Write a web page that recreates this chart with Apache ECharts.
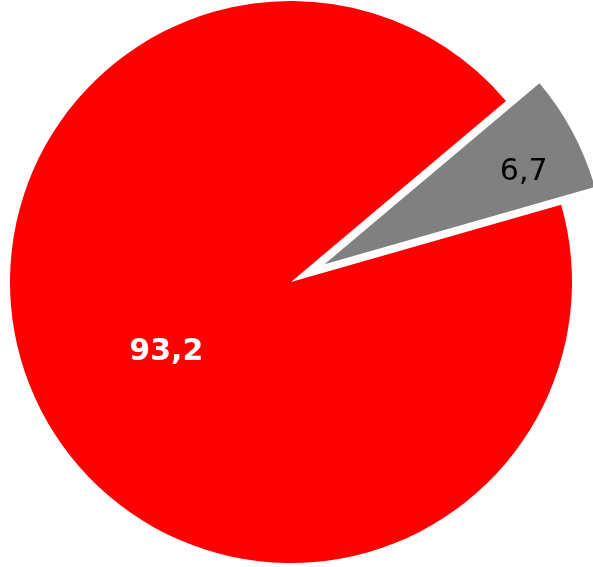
<!DOCTYPE html>
<html>
<head>
<meta charset="utf-8">
<script src="https://cdn.jsdelivr.net/npm/echarts@6/dist/echarts.min.js"></script>
<style>
  html, body { margin: 0; padding: 0; background: #fff; }
  #container { width: 593px; height: 567px; }
</style>
</head>
<body>
<div id="container"></div>
<script>
var names = ['small', 'large'];
var values = [6.7, 93.2];
var labels = ['6,7', '93,2'];
var colors = ['#808080', '#ff0000'];

var chart = echarts.init(document.getElementById('container'));

var data = values.map(function (v, i) {
    var item = {
        name: names[i],
        value: v,
        itemStyle: { color: colors[i] },
        label: {}
    };
    if (i === 0) {
        // exploded slice, label sits further out (empty second line pushes it up)
        item.selected = true;
        item.label.formatter = '{a|' + labels[i] + '}\n{s| }';
        item.label.padding = [0, 0, 0, 145];
        item.label.rich = {
            a: { color: '#000', fontWeight: 'normal', fontSize: 30, fontFamily: 'DejaVu Sans' },
            s: { fontSize: 1, lineHeight: 49 }
        };
    } else {
        item.label.formatter = '{s| }\n{a|' + labels[i] + '}';
        item.label.padding = [0, 0, 0, 4];
        item.label.rich = {
            a: { color: '#fff', fontWeight: 'bold', fontSize: 30, fontFamily: 'DejaVu Sans' },
            s: { fontSize: 1, lineHeight: 5 }
        };
    }
    return item;
});

var option = {
    animation: false,
    backgroundColor: '#fff',
    series: [{
        type: 'pie',
        center: [291, 282],
        radius: [0, 281],
        startAngle: 40.1,
        clockwise: true,
        selectedMode: 'single',
        selectedOffset: 38,
        avoidLabelOverlap: false,
        label: {
            show: true,
            position: 'inside',
            fontFamily: 'DejaVu Sans',
            fontSize: 30
        },
        labelLine: { show: false },
        emphasis: { disabled: true },
        select: {
            itemStyle: { borderWidth: 0 }
        },
        data: data
    }]
};

chart.setOption(option);
</script>
</body>
</html>
